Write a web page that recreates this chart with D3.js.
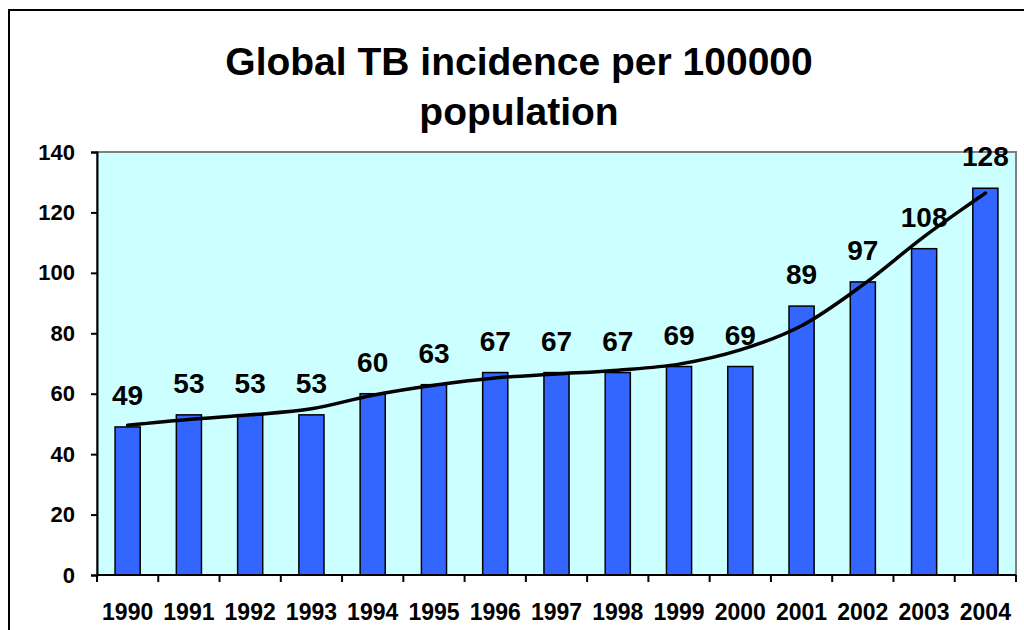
<!DOCTYPE html>
<html>
<head>
<meta charset="utf-8">
<script src="https://cdn.jsdelivr.net/npm/d3@7"></script>
<style>
    html, body { margin: 0; padding: 0; background: #fff; }
    svg text { font-family: "Liberation Sans", Arial, sans-serif; font-weight: bold; fill: #000; }
</style>
</head>
<body>
<svg id="chart" width="1024" height="630"></svg>
<script>

// Chart data
var years = ['1990', '1991', '1992', '1993', '1994', '1995', '1996', '1997',
    '1998', '1999', '2000', '2001', '2002', '2003', '2004'];
var incidence = [49, 53, 53, 53, 60, 63, 67, 67, 67, 69, 69, 89, 97, 108, 128];
var trend = [49.6, 51.5, 53, 55, 59.5, 62.8, 65.2, 66.5, 67.8, 69.8, 74.5, 82.5, 96, 112, 126.4];
var yTicks = [0, 20, 40, 60, 80, 100, 120, 140];
var titleLines = ['Global TB incidence per 100000', 'population'];

var svg = d3.select('#chart');

// outer frame (runs off the right and bottom of the picture)
svg.append('rect')
    .attr('x', 9).attr('y', 10)
    .attr('width', 1100).attr('height', 700)
    .attr('fill', 'none')
    .attr('stroke', '#000')
    .attr('stroke-width', 2);

// plot area
var plotLeft = 97, plotRight = 1016, plotTop = 152, plotBottom = 575;

var x = d3.scaleBand()
    .domain(years)
    .range([plotLeft, plotRight])
    .paddingInner(0.59)
    .paddingOuter(0.295);

var y = d3.scaleLinear()
    .domain([0, 140])
    .range([plotBottom, plotTop]);

svg.append('rect')
    .attr('x', plotLeft).attr('y', plotTop)
    .attr('width', plotRight - plotLeft).attr('height', plotBottom - plotTop)
    .attr('fill', '#CCFFFF')
    .attr('stroke', '#808080')
    .attr('stroke-width', 2);

// title
svg.selectAll('.title')
    .data(titleLines)
    .enter().append('text')
    .attr('class', 'title')
    .attr('x', 519)
    .attr('y', function (d, i) { return 75 + i * 50; })
    .attr('text-anchor', 'middle')
    .style('font-size', '39px')
    .text(function (d) { return d; });

// bars
svg.selectAll('.bar')
    .data(incidence)
    .enter().append('rect')
    .attr('class', 'bar')
    .attr('x', function (d, i) { return x(years[i]); })
    .attr('y', function (d) { return y(d); })
    .attr('width', x.bandwidth())
    .attr('height', function (d) { return y(0) - y(d); })
    .attr('fill', '#3366FF')
    .attr('stroke', '#000')
    .attr('stroke-width', 1.5);

// trend line
var line = d3.line()
    .x(function (d, i) { return x(years[i]) + x.bandwidth() / 2; })
    .y(function (d) { return y(d); })
    .curve(d3.curveCatmullRom);

svg.append('path')
    .datum(trend)
    .attr('d', line)
    .attr('fill', 'none')
    .attr('stroke', '#000')
    .attr('stroke-width', 3.5)
    .attr('stroke-linecap', 'round');

// value labels
svg.selectAll('.value')
    .data(incidence)
    .enter().append('text')
    .attr('class', 'value')
    .attr('x', function (d, i) { return x(years[i]) + x.bandwidth() / 2; })
    .attr('y', function (d) { return y(d) - 22; })
    .attr('text-anchor', 'middle')
    .style('font-size', '28px')
    .text(function (d) { return d; });

// y axis
var yAxis = d3.axisLeft(y)
    .tickValues(yTicks)
    .tickSize(6)
    .tickPadding(16);

var gy = svg.append('g')
    .attr('transform', 'translate(' + plotLeft + ',0)')
    .call(yAxis);
gy.select('.domain').attr('stroke', '#000').attr('stroke-width', 2);
gy.selectAll('.tick line').attr('stroke', '#000').attr('stroke-width', 2);
gy.selectAll('.tick text')
    .attr('font-family', null)
    .attr('font-size', null)
    .style('font-size', '22px');

// x axis: ticks sit between categories
var gx = svg.append('g')
    .attr('transform', 'translate(0,' + plotBottom + ')');

gx.append('line')
    .attr('x1', plotLeft).attr('x2', plotRight)
    .attr('stroke', '#000')
    .attr('stroke-width', 2);

var gap = (x.step() - x.bandwidth()) / 2;
var bounds = years.map(function (d) { return x(d) - gap; });
bounds.push(plotRight);

gx.selectAll('.xtick')
    .data(bounds)
    .enter().append('line')
    .attr('class', 'xtick')
    .attr('x1', function (d) { return d; })
    .attr('x2', function (d) { return d; })
    .attr('y1', 0).attr('y2', 7)
    .attr('stroke', '#000')
    .attr('stroke-width', 2);

gx.selectAll('.xlabel')
    .data(years)
    .enter().append('text')
    .attr('class', 'xlabel')
    .attr('x', function (d) { return x(d) + x.bandwidth() / 2; })
    .attr('y', 45)
    .attr('text-anchor', 'middle')
    .style('font-size', '23px')
    .text(function (d) { return d; });

</script>
</body>
</html>
